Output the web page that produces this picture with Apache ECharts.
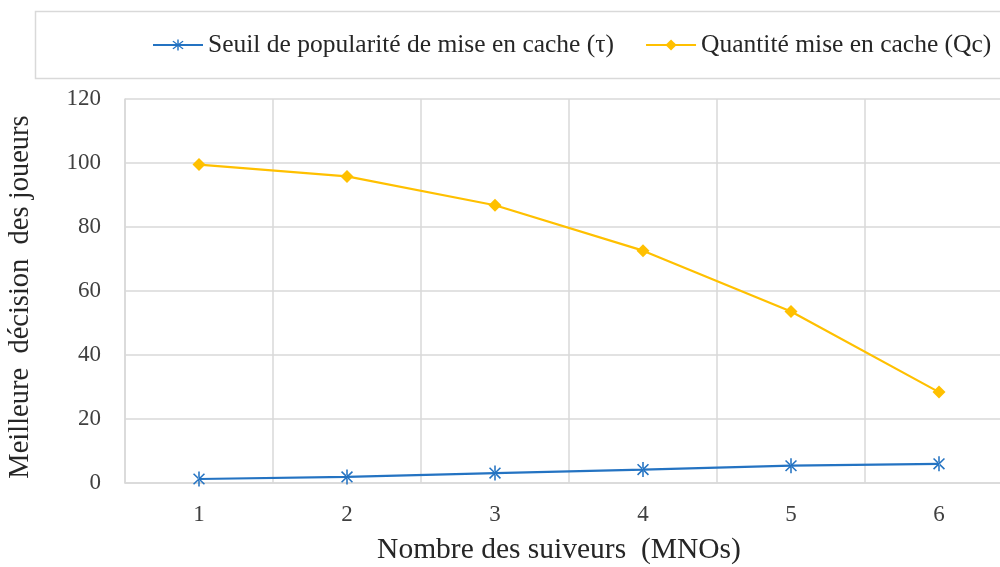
<!DOCTYPE html>
<html>
<head>
<meta charset="utf-8">
<script src="https://cdn.jsdelivr.net/npm/echarts@6/dist/echarts.min.js"></script>
<style>
  html, body { margin: 0; padding: 0; background: #ffffff; }
  #chart { width: 1000px; height: 567px; }
</style>
</head>
<body>
<div id="chart"></div>
<script>
// Number of followers (MNOs)
const categories = ['1', '2', '3', '4', '5', '6'];
// Caching popularity threshold (tau)
const seuilValues = [1.25, 1.9, 3.1, 4.2, 5.4, 6.0];
// Cached quantity (Qc)
const quantiteValues = [99.5, 95.8, 86.8, 72.6, 53.6, 28.4];

const seriesNames = ['Seuil de popularité de mise en cache (τ)', 'Quantité mise en cache (Qc)'];
const xTitle = 'Nombre des suiveurs  (MNOs)';
const yTitle = 'Meilleure  décision  des joueurs';

const FONT = 'Liberation Serif';
const BLUE = '#2473c2';
const GOLD = '#ffc000';
const GRID = '#d9d9d9';

// Asterisk marker: one vertical bar plus two 45° bars
const asterisk = 'path://M-1,-10L1,-10L1,10L-1,10Z' +
  'M6.36,7.78L7.78,6.36L-6.36,-7.78L-7.78,-6.36Z' +
  'M-6.36,7.78L-7.78,6.36L6.36,-7.78L7.78,-6.36Z';

const chart = echarts.init(document.getElementById('chart'), null, { renderer: 'canvas' });

chart.setOption({
  animation: false,
  backgroundColor: '#ffffff',
  graphic: [{
    type: 'rect',
    shape: { x: 35.5, y: 11.5, width: 980, height: 67 },
    style: { fill: 'none', stroke: GRID, lineWidth: 1.5 },
    silent: true,
    z: 0
  }],
  legend: {
    left: 152,
    top: 31,
    padding: 0,
    itemWidth: 50,
    itemHeight: 14,
    itemGap: 31,
    textStyle: { fontFamily: FONT, fontSize: 25.5, color: '#262626', lineHeight: 28 },
    data: seriesNames
  },
  // the plot runs a little past the right edge of the page
  grid: { left: 125, width: 888, top: 99, bottom: 84, outerBoundsMode: 'none', containLabel: false },
  xAxis: {
    type: 'category',
    data: categories,
    boundaryGap: true,
    name: xTitle,
    nameLocation: 'middle',
    nameGap: 52,
    nameTextStyle: { fontFamily: FONT, fontSize: 29.5, color: '#262626', padding: [0, 20, 0, 0] },
    axisLine: { show: true, lineStyle: { color: GRID, width: 1.5 } },
    axisTick: { show: false },
    axisLabel: { fontFamily: FONT, fontSize: 23, color: '#404040', margin: 20 },
    splitLine: { show: true, lineStyle: { color: GRID, width: 1.5 } }
  },
  yAxis: {
    type: 'value',
    min: 0,
    max: 120,
    interval: 20,
    name: yTitle,
    nameLocation: 'middle',
    nameGap: 90,
    nameTextStyle: { fontFamily: FONT, fontSize: 28.5, color: '#262626', padding: [0, 12, 0, 0] },
    axisLine: { show: true, lineStyle: { color: GRID, width: 1.5 } },
    axisTick: { show: false },
    axisLabel: { fontFamily: FONT, fontSize: 23, color: '#404040', margin: 24 },
    splitLine: { show: true, lineStyle: { color: GRID, width: 1.5 } }
  },
  series: [
    {
      name: seriesNames[0],
      type: 'line',
      data: seuilValues,
      symbol: asterisk,
      symbolSize: [12, 15],
      lineStyle: { color: BLUE, width: 2.25 },
      itemStyle: { color: BLUE },
      z: 3
    },
    {
      name: seriesNames[1],
      type: 'line',
      data: quantiteValues,
      symbol: 'diamond',
      symbolSize: 13,
      lineStyle: { color: GOLD, width: 2.25 },
      itemStyle: { color: GOLD },
      z: 3
    }
  ]
});
</script>
</body>
</html>
